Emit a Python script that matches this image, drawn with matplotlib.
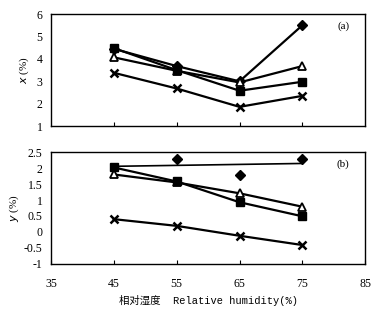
import numpy as np
import matplotlib
matplotlib.use("Agg")
import matplotlib.pyplot as plt

# ── dados ───────────────────────────────────────────────────────────
rh = [45, 55, 65, 75]

# (a) x (%)
a_square = [4.48, 3.50, 2.58, 2.98]
a_triangle = [4.07, 3.47, 2.95, 3.68]
a_cross = [3.38, 2.68, 1.86, 2.35]
a_diamond = [4.45, 3.68, 3.00, 5.50]

# (b) y (%)
b_square = [2.02, 1.58, 0.93, 0.49]
b_triangle = [1.80, 1.55, 1.21, 0.79]
b_cross = [0.40, 0.19, -0.12, -0.41]
b_diamond = [2.02, 2.30, 1.79, 2.29]

xticks = [35, 45, 55, 65, 75, 85]

tick_font = {"family": "Liberation Serif", "size": 8}
mono_cjk = ["Liberation Mono", "Noto Sans CJK SC"]

fig = plt.figure(figsize=(3.85, 3.13), dpi=100)
ax1 = fig.add_axes([0.1325, 0.597, 0.816, 0.358])
ax2 = fig.add_axes([0.1325, 0.157, 0.816, 0.357])

kw = dict(color="black", lw=1.6, ms=6)

# ── painel (a) ──
ax1.plot(rh, a_diamond, marker="D", mfc="black", ms=5, color="black", lw=1.6)
ax1.plot(rh, a_triangle, marker="^", mfc="white", mew=1.3, **kw)
ax1.plot(rh, a_square, marker="s", mfc="black", **kw)
ax1.plot(rh, a_cross, marker="x", mew=1.8, **kw)
ax1.set_ylim(1, 6)
ax1.set_yticks([1, 2, 3, 4, 5, 6])
ax1.set_xlim(35, 85)
ax1.set_xticks(rh)
ax1.set_xticklabels([])
ax1.text(0.95, 0.87, "(a)", transform=ax1.transAxes, ha="right",
         fontdict=tick_font)
ax1.set_ylabel(r"$x$ (%)", fontsize=8, family="Liberation Serif", labelpad=4)

# ── painel (b) ── (losangos: linha de tendência + pontos)
coef = np.polyfit(rh, b_diamond, 1)
ax2.plot([rh[0], rh[-1]], np.polyval(coef, [rh[0], rh[-1]]), color="black", lw=1.2)
ax2.plot(rh[1:], b_diamond[1:], ls="none", marker="D", mfc="black", color="black", ms=5)
ax2.plot(rh, b_triangle, marker="^", mfc="white", mew=1.3, **kw)
ax2.plot(rh, b_square, marker="s", mfc="black", **kw)
ax2.plot(rh, b_cross, marker="x", mew=1.8, **kw)
ax2.set_ylim(-1, 2.5)
ax2.set_yticks([-1, -0.5, 0, 0.5, 1, 1.5, 2, 2.5])
ax2.set_yticklabels(["-1", "-0.5", "0", "0.5", "1", "1.5", "2", "2.5"])
ax2.set_xlim(35, 85)
ax2.set_xticks(xticks)
ax2.text(0.95, 0.87, "(b)", transform=ax2.transAxes, ha="right",
         fontdict=tick_font)
ax2.set_ylabel(r"$y$ (%)", fontsize=8, family="Liberation Serif", labelpad=2)
ax2.set_xlabel("相对湿度  Relative humidity(%)", fontsize=7.5, family=mono_cjk,
               labelpad=4)

for ax in (ax1, ax2):
    for s in ax.spines.values():
        s.set_linewidth(1.0)
    ax.tick_params(axis="x", direction="in", length=3, width=0.8)
    ax.tick_params(axis="y", direction="in", length=0, pad=6)
    for lab in ax.get_xticklabels() + ax.get_yticklabels():
        lab.set_fontfamily("Liberation Serif")
        lab.set_fontsize(8.5)
ax2.tick_params(axis="x", pad=10)

fig.savefig("out.png", dpi=100)
